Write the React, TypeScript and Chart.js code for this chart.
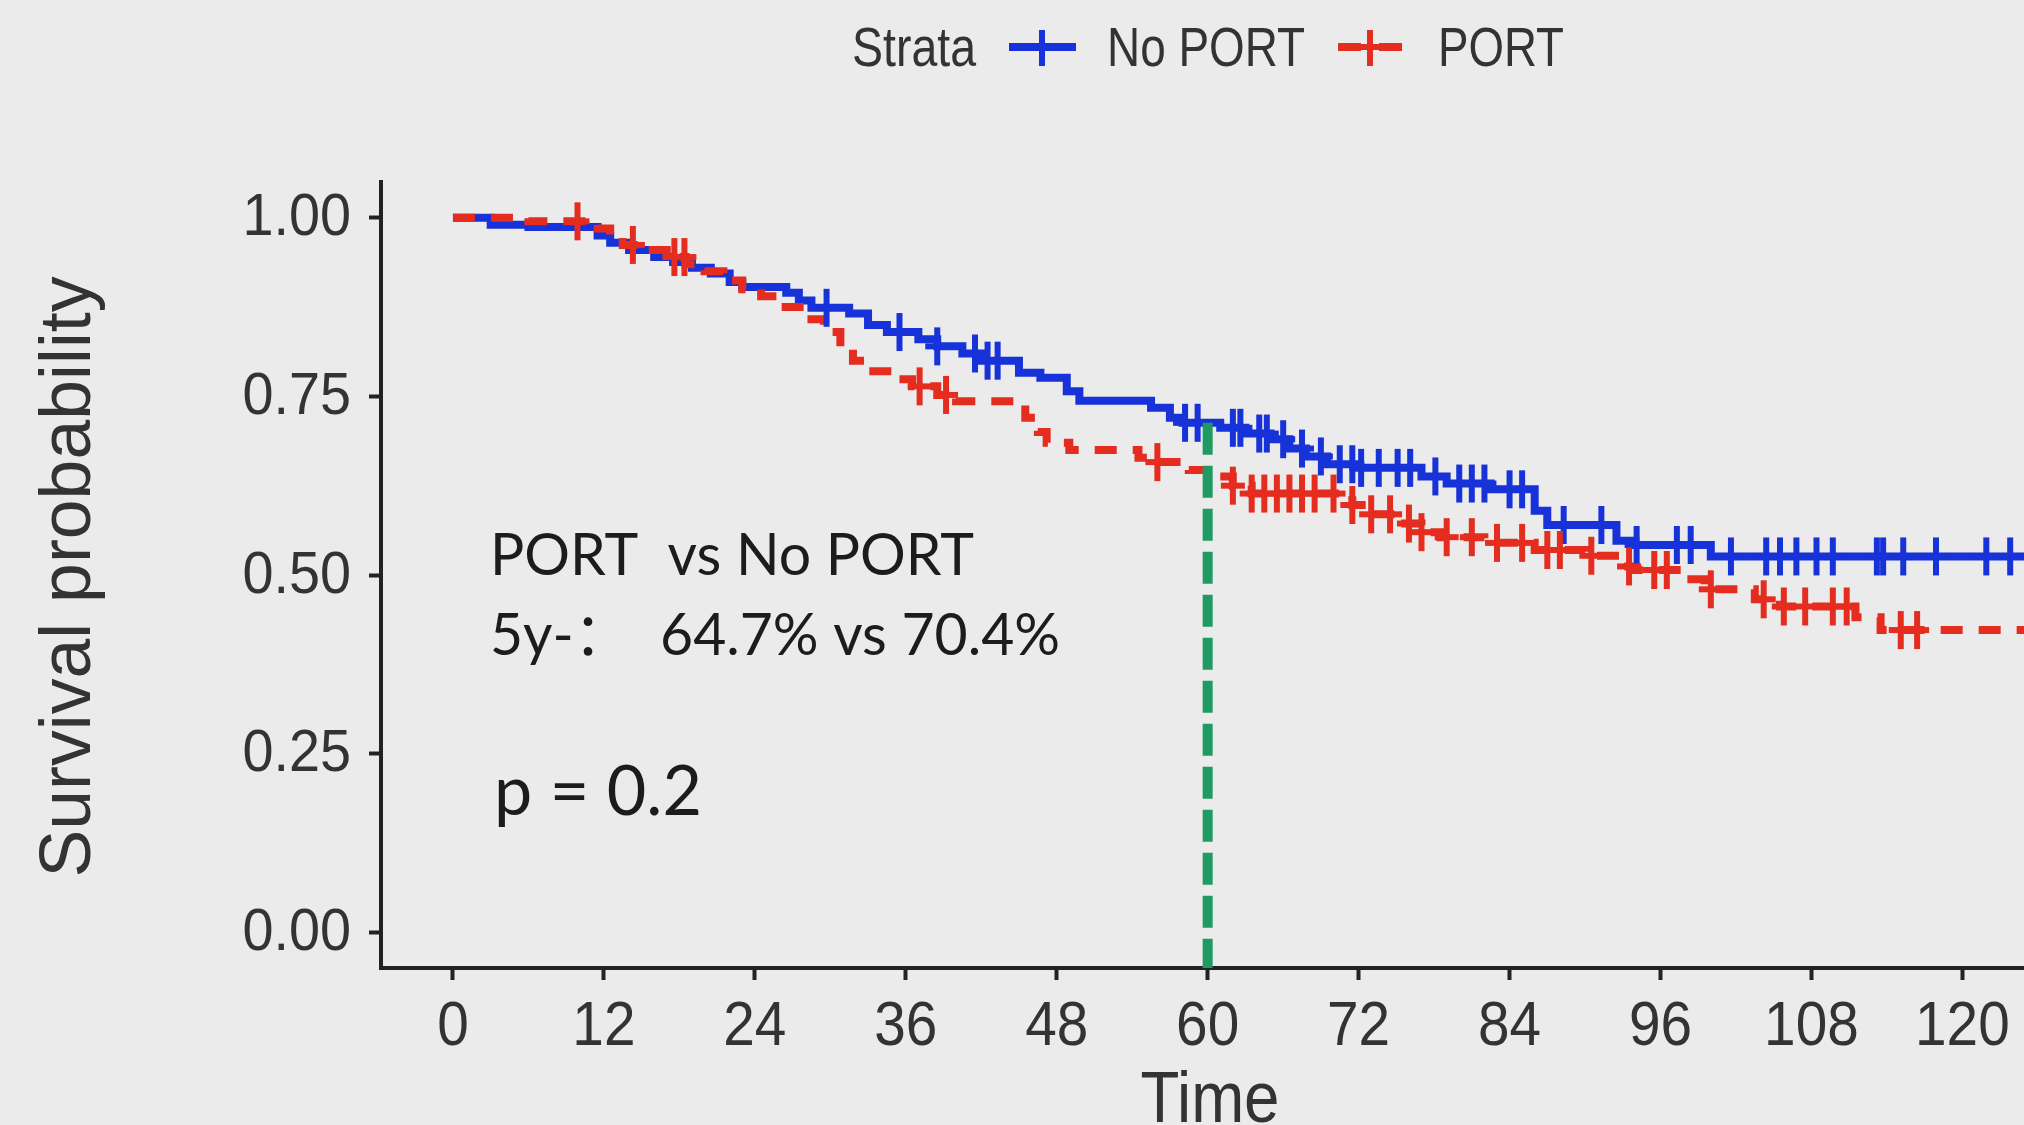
import React, { useEffect, useRef } from "react";
import { Chart, registerables } from "chart.js";

Chart.register(...registerables);

// ---------- data ----------
const xTicks = [0, 12, 24, 36, 48, 60, 72, 84, 96, 108, 120];
const yTicks = [0, 0.25, 0.5, 0.75, 1];

const groupNames = ["No PORT", "PORT"];
const legendTitle = "Strata";

// Kaplan-Meier step points (time in months, survival after the step)
const noPortTime = [0, 3, 6, 11.5, 12.5, 14, 16, 17.5, 19, 20.5, 22, 23, 26.5, 27.5, 28.5, 31.5, 33, 34.5, 37, 38.5, 40.5, 42, 45, 46.7, 48.8, 49.8, 55.5, 57, 58, 61, 63, 65, 66.5, 67.8, 69.5, 72, 77, 79, 82.5, 86, 87, 92.5, 94, 100, 125];
const noPortSurv = [1, 0.99, 0.987, 0.975, 0.965, 0.955, 0.945, 0.938, 0.93, 0.922, 0.91, 0.903, 0.895, 0.884, 0.874, 0.866, 0.85, 0.84, 0.83, 0.82, 0.81, 0.8, 0.783, 0.776, 0.757, 0.744, 0.734, 0.72, 0.713, 0.706, 0.698, 0.69, 0.677, 0.666, 0.655, 0.65, 0.638, 0.628, 0.62, 0.59, 0.57, 0.548, 0.542, 0.526, 0.526];

const portTime = [0, 6, 11.5, 12.5, 13.5, 15.5, 17, 18.5, 20, 21.5, 23, 24.5, 26, 28, 29.5, 30.8, 31.8, 33, 35, 36.5, 38.5, 40, 45.5, 46.5, 47.2, 49, 54.5, 55.8, 58.5, 61, 62, 63.5, 71.5, 73, 75, 77, 78.5, 82, 86, 90, 93, 94, 98, 99.5, 103.5, 105.5, 111.5, 113.5, 125];
const portSurv = [1, 0.995, 0.985, 0.975, 0.962, 0.955, 0.945, 0.935, 0.925, 0.912, 0.9, 0.89, 0.875, 0.858, 0.84, 0.818, 0.8, 0.785, 0.774, 0.764, 0.752, 0.743, 0.72, 0.7, 0.685, 0.675, 0.664, 0.658, 0.647, 0.638, 0.625, 0.614, 0.598, 0.585, 0.572, 0.56, 0.553, 0.545, 0.535, 0.527, 0.512, 0.507, 0.494, 0.48, 0.466, 0.456, 0.441, 0.423, 0.423];

// censoring times
const noPortCensor = [29.7, 35.5, 38.5, 41.5, 42.5, 43.3, 58.2, 59.2, 62, 62.6, 64.1, 64.7, 66, 67.5, 69, 70.5, 71.5, 72.2, 73.6, 75.1, 76.1, 78.1, 80, 81, 82, 84, 85, 88.3, 91.3, 94.1, 97.3, 98.4, 101.6, 104.4, 105.5, 106.8, 108.4, 109.7, 113.2, 113.7, 115.3, 117.9, 121.9, 123.8];
const portCensor = [9.9, 14.3, 17.6, 18.4, 37.1, 39.2, 56, 62, 63.5, 64.5, 65.5, 66.5, 67.5, 68.5, 70, 71.5, 73, 74.5, 76, 77, 79, 81, 83, 85, 87, 88, 90.5, 93.5, 95.5, 96.5, 100, 104.2, 105.8, 107.5, 109.7, 110.8, 115.1, 116.4];

// 5-year reference line
const fiveYearTime = 60;
const fiveYearTop = 0.713;

const annotationLines = ["PORT  vs No PORT", "5y-：  64.7% vs 70.4%"];
const pValueText = "p = 0.2";
const xTitle = "Time";
const yTitle = "Survival probability";

// ---------- style ----------
const BG = "#EBEBEB";
const BLUE = "#1632D8";
const RED = "#E42D1F";
const GREEN = "#1E9A62";
const AXIS = "#222222";
const HELV = '"Liberation Sans", Arial, sans-serif';
const CALI = 'Lato, "Noto Sans CJK SC", "Open Sans", sans-serif';

function survAt(times: number[], surv: number[], t: number) {
  let s = surv[0];
  for (let i = 0; i < times.length; i++) if (times[i] <= t) s = surv[i];
  return s;
}

function makePlus(color: string) {
  const c = document.createElement("canvas");
  c.width = 26;
  c.height = 40;
  const g = c.getContext("2d")!;
  g.strokeStyle = color;
  g.lineWidth = 6;
  g.beginPath();
  g.moveTo(13, 1);
  g.lineTo(13, 39);
  g.moveTo(1, 20);
  g.lineTo(25, 20);
  g.stroke();
  return c;
}

type TextOpts = {
  align?: CanvasTextAlign;
  baseline?: CanvasTextBaseline;
  sx?: number;
  width?: number;
  rotate?: number;
  color?: string;
};

function drawText(ctx: CanvasRenderingContext2D, text: string, x: number, y: number, font: string, o: TextOpts) {
  ctx.save();
  ctx.font = font;
  const w = ctx.measureText(text).width;
  const sx = o.width ? o.width / w : o.sx ?? 1;
  ctx.translate(x, y);
  if (o.rotate) ctx.rotate(o.rotate);
  ctx.scale(sx, 1);
  ctx.textAlign = o.align ?? "left";
  ctx.textBaseline = o.baseline ?? "alphabetic";
  ctx.fillStyle = o.color ?? "#2a2a2a";
  ctx.fillText(text, 0, 0);
  ctx.restore();
}

const textPlugin = {
  id: "kmTexts",
  afterDraw(chart: any) {
    const ctx: CanvasRenderingContext2D = chart.ctx;
    const xs = chart.scales.x;
    const ys = chart.scales.y;
    const area = chart.chartArea;

    // tick labels
    yTicks.forEach((v) =>
      drawText(ctx, v.toFixed(2), 351, ys.getPixelForValue(v) + 1, `60px ${HELV}`, {
        align: "right",
        baseline: "middle",
        sx: 0.93,
        color: "#333",
      })
    );
    xTicks.forEach((v) =>
      drawText(ctx, String(v), xs.getPixelForValue(v), 1045, `63px ${HELV}`, {
        align: "center",
        sx: 0.9,
        color: "#333",
      })
    );

    // axis titles
    drawText(ctx, yTitle, 90, (area.top + area.bottom) / 2 + 2, `73px ${HELV}`, {
      align: "center",
      rotate: -Math.PI / 2,
      width: 601,
      color: "#333",
    });
    drawText(ctx, xTitle, 1210, 1122, `72px ${HELV}`, { align: "center", width: 139, color: "#333" });

    // legend
    drawText(ctx, legendTitle, 852, 66, `56px ${HELV}`, { width: 124, color: "#333" });
    drawText(ctx, groupNames[0], 1107, 66, `56px ${HELV}`, { width: 198, color: "#333" });
    drawText(ctx, groupNames[1], 1438, 66, `56px ${HELV}`, { width: 126, color: "#333" });

    ctx.save();
    ctx.lineCap = "butt";
    // blue key
    ctx.strokeStyle = BLUE;
    ctx.lineWidth = 8;
    ctx.beginPath();
    ctx.moveTo(1009, 47);
    ctx.lineTo(1076, 47);
    ctx.stroke();
    ctx.lineWidth = 6;
    ctx.beginPath();
    ctx.moveTo(1042, 30);
    ctx.lineTo(1042, 66);
    ctx.stroke();
    // red key
    ctx.strokeStyle = RED;
    ctx.lineWidth = 8;
    ctx.beginPath();
    ctx.moveTo(1338, 47);
    ctx.lineTo(1361, 47);
    ctx.moveTo(1379, 47);
    ctx.lineTo(1402, 47);
    ctx.stroke();
    ctx.lineWidth = 6;
    ctx.beginPath();
    ctx.moveTo(1370, 30);
    ctx.lineTo(1370, 66);
    ctx.moveTo(1359, 47);
    ctx.lineTo(1381, 47);
    ctx.stroke();
    ctx.restore();

    // annotations
    drawText(ctx, annotationLines[0], 490, 575, `59px ${CALI}`, { width: 484, color: "#1c1c1c" });
    drawText(ctx, annotationLines[1], 490, 655, `59px ${CALI}`, { width: 570, color: "#1c1c1c" });
    drawText(ctx, pValueText, 494, 815, `70px ${CALI}`, { width: 208, color: "#1c1c1c" });
  },
};

const bgPlugin = {
  id: "bg",
  beforeDraw(chart: any) {
    const ctx = chart.ctx;
    ctx.save();
    ctx.fillStyle = BG;
    ctx.fillRect(0, 0, chart.width, chart.height);
    ctx.restore();
  },
};

export default function App() {
  const ref = useRef<HTMLCanvasElement | null>(null);

  useEffect(() => {
    document.body.style.margin = "0";
    document.body.style.background = BG;
    const canvas = ref.current!;
    const bluePlus = makePlus(BLUE);
    const redPlus = makePlus(RED);

    const noPortLine = noPortTime.map((t, i) => ({ x: t, y: noPortSurv[i] }));
    const portLine = portTime.map((t, i) => ({ x: t, y: portSurv[i] }));
    const noPortMarks = noPortCensor.map((t) => ({ x: t, y: survAt(noPortTime, noPortSurv, t) }));
    const portMarks = portCensor.map((t) => ({ x: t, y: survAt(portTime, portSurv, t) }));

    const chart = new Chart(canvas, {
      type: "line",
      data: {
        datasets: [
          {
            label: "5y",
            data: [
              { x: fiveYearTime, y: fiveYearTop },
              { x: fiveYearTime, y: -0.05 },
            ],
            borderColor: GREEN,
            borderWidth: 10,
            borderDash: [32, 11],
            pointRadius: 0,
            order: 0,
          },
          {
            type: "scatter",
            label: groupNames[1] + " censor",
            data: portMarks,
            pointStyle: redPlus as any,
            pointRadius: 12,
            showLine: false,
            order: 1,
          },
          {
            type: "scatter",
            label: groupNames[0] + " censor",
            data: noPortMarks,
            pointStyle: bluePlus as any,
            pointRadius: 12,
            showLine: false,
            order: 2,
          },
          {
            label: groupNames[1],
            data: portLine,
            stepped: "before",
            borderColor: RED,
            borderWidth: 8,
            borderDash: [22, 16],
            pointRadius: 0,
            order: 3,
          },
          {
            label: groupNames[0],
            data: noPortLine,
            stepped: "before",
            borderColor: BLUE,
            borderWidth: 8,
            pointRadius: 0,
            order: 4,
          },
        ],
      },
      options: {
        animation: false,
        responsive: false,
        devicePixelRatio: 1,
        events: [],
        layout: { autoPadding: false, padding: { top: 182, left: 0, right: 0, bottom: 0 } },
        plugins: { legend: { display: false }, tooltip: { enabled: false }, title: { display: false } },
        scales: {
          x: {
            type: "linear",
            min: -5.72,
            max: 124.9,
            afterBuildTicks: (axis: any) => {
              axis.ticks = xTicks.map((v) => ({ value: v }));
            },
            afterFit: (scale: any) => {
              scale.height = 157;
              scale.paddingLeft = 0;
              scale.paddingRight = 0;
            },
            ticks: { display: false },
            grid: {
              display: true,
              drawOnChartArea: false,
              drawTicks: true,
              tickLength: 12,
              tickWidth: 4,
              tickColor: AXIS,
              color: AXIS,
            },
            border: { display: true, width: 4, color: AXIS },
          },
          y: {
            type: "linear",
            min: -0.05,
            max: 1.05,
            afterBuildTicks: (axis: any) => {
              axis.ticks = yTicks.map((v) => ({ value: v }));
            },
            afterFit: (scale: any) => {
              scale.width = 381;
            },
            ticks: { display: false },
            grid: {
              display: true,
              drawOnChartArea: false,
              drawTicks: true,
              tickLength: 12,
              tickWidth: 4,
              tickColor: AXIS,
              color: AXIS,
            },
            border: { display: true, width: 4, color: AXIS },
          },
        },
      } as any,
      plugins: [bgPlugin, textPlugin],
    });

    return () => chart.destroy();
  }, []);

  return (
    <div style={{ width: 2024, height: 1125, background: BG }}>
      <canvas ref={ref} width={2024} height={1125} style={{ display: "block" }} />
    </div>
  );
}
